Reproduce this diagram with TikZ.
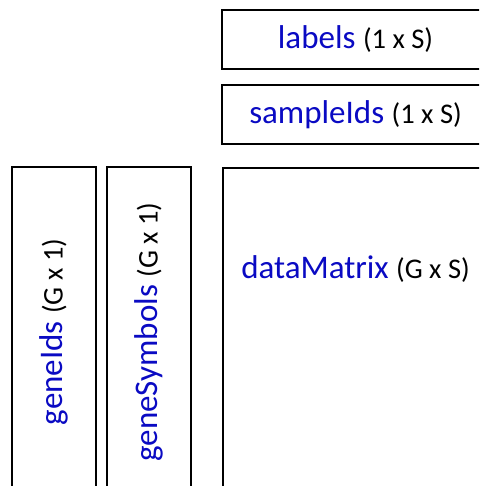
\documentclass[tikz,border=0pt]{standalone}
\usepackage{fontspec}
\setmainfont{Carlito}
\usepackage{tikz}
\usetikzlibrary{positioning}
\definecolor{varblue}{RGB}{10,10,195}
\newcommand{\vname}[1]{{\color{varblue}\fontsize{33}{36}\selectfont #1 }}
\newcommand{\vdim}[1]{{\fontsize{28.5}{30}\selectfont #1}}
\tikzset{box/.style={rectangle,draw=black,line width=2pt,fill=white,inner sep=0pt}}
\tikzset{rowbox/.style={box,minimum width=267pt,minimum height=59pt}}
\tikzset{colbox/.style={box,rotate=90,minimum width=330pt,minimum height=84pt}}
\tikzset{inv/.style={inner sep=0pt}}

\begin{document}
\begin{tikzpicture}[x=1pt,y=-1pt]
  \useasboundingbox (0,0) rectangle (479,486);
  \clip (0,0) rectangle (479,486);
  \node[rowbox] (labels) at (355.5,39.5) {\raisebox{-2pt}{\vname{labels}\vdim{(1 x S)}}};
  \node[rowbox] (sampleIds) at (355.5,114.5) {\raisebox{-2pt}{\vname{sampleIds}\vdim{(1 x S)}}};
  \node[box,anchor=north west,minimum width=267pt,minimum height=360pt] (dataMatrix) at (222,167) {};
  \node[inv] (dataMatrixText) at (355.5,269) {\vname{dataMatrix}\vdim{(G x S)}};
  \node[colbox] (geneIds) at (54,332) {\vname{geneIds}\vdim{(G x 1)}};
  \node[colbox] (geneSymbols) at (149,332) {\vname{geneSymbols}\vdim{(G x 1)}};
  % \node[colbox] (geneNames) at (244,332) {};
\end{tikzpicture}
\end{document}
